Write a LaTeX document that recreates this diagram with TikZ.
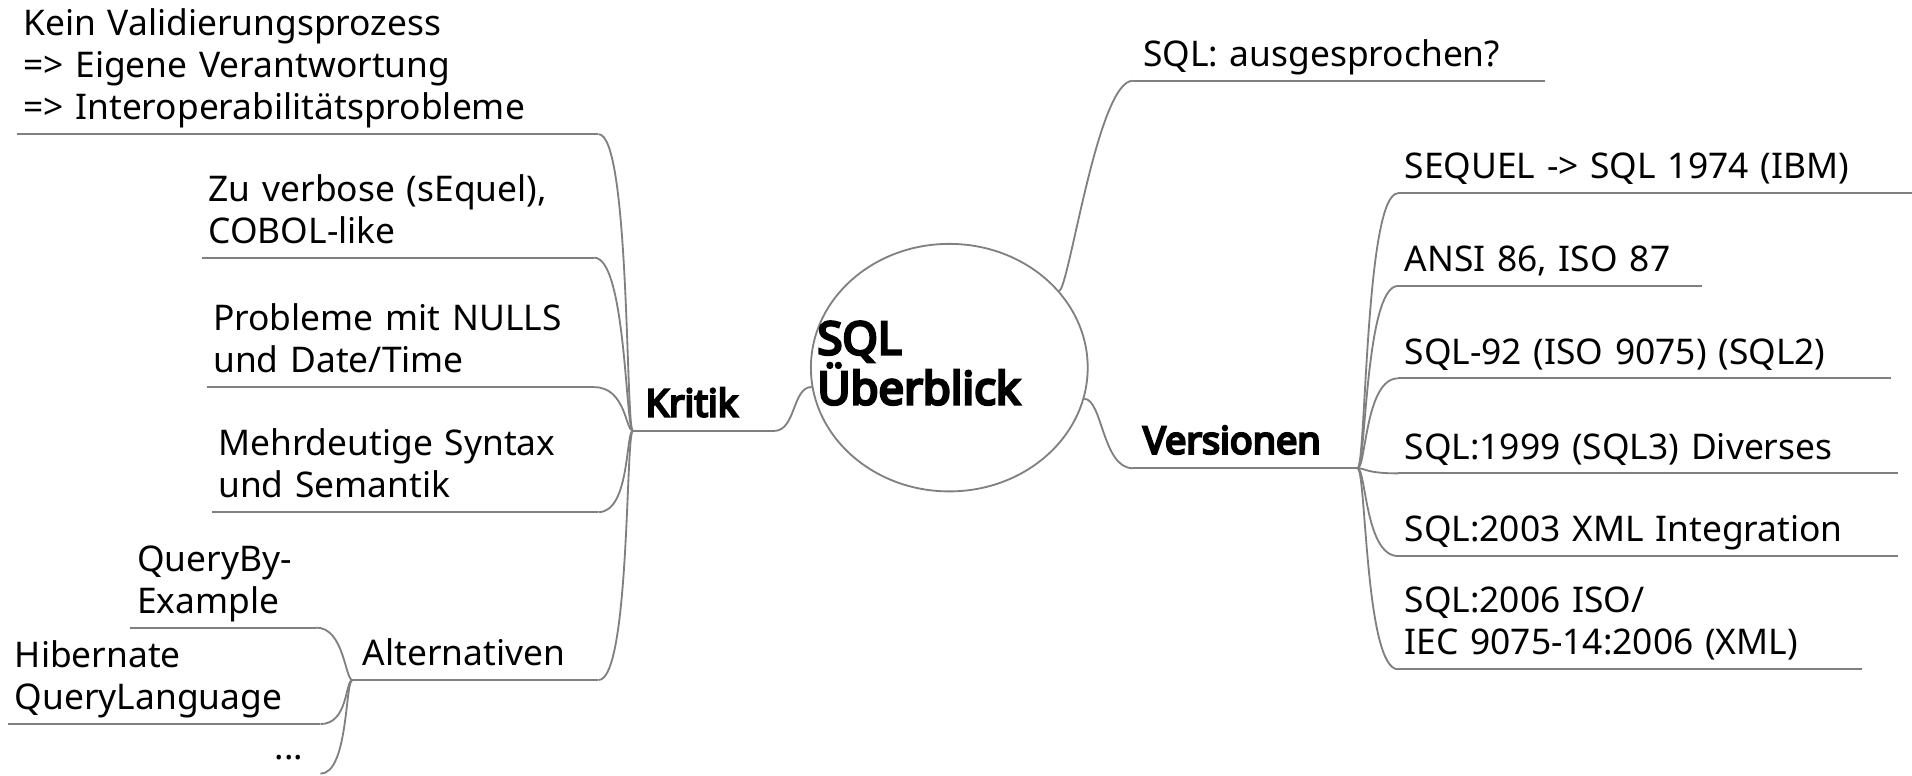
\documentclass[tikz,border=0pt]{standalone}
\usepackage{fontspec}
\setmainfont{Noto Sans}
\newfontfamily\headfont{Noto Sans}[FakeBold=6]
\usetikzlibrary{shapes.geometric}
\definecolor{branchgray}{RGB}{128,128,128}
\tikzset{
  branch/.style={draw=branchgray, line width=0.75pt},
  topic/.style={anchor=south west, inner xsep=2.5pt, inner ysep=0.5pt, align=left,
    font=\fontsize{14.5}{17.25}\selectfont},
  maintopic/.style={topic, inner xsep=4pt, font=\headfont\fontsize{15.5}{17.5}\selectfont},
  rootshape/.style={draw=branchgray, line width=0.75pt, ellipse, inner sep=0pt,
    minimum width=113.5pt, minimum height=101.5pt},
  roottext/.style={anchor=south west, inner sep=0pt, align=left,
    font=\headfont\fontsize{18.6}{20.5}\selectfont},
}
\begin{document}
\begin{tikzpicture}[x=0.5pt,y=-0.5pt]
\useasboundingbox (0,0) rectangle (1568,636);

% central topic
\node[rootshape] (root) at (778.5,301.5) {};
\node[roottext] (roottitle) at (670,344.3) {SQL\\Überblick\strut};

% main branches
\node[maintopic, inner xsep=5pt, text width=47.5pt] (kritik) at (519,353.4) {Kritik\strut};
\node[maintopic, text width=83.75pt] (versionen) at (929,384) {Versionen\strut};
\node[topic, inner xsep=4pt, text width=160.5pt] (sqlq) at (929,66.2) {SQL: ausgesprochen?\strut};

% Kritik
\node[topic, text width=233.2pt] (kein) at (13.6,110)
  {Kein Validierungsprozess\\=> Eigene Verantwortung\\=> Interoperabilitätsprobleme\strut};
\node[topic, text width=155.4pt] (verbose) at (165.7,211.3) {Zu verbose (sEquel),\\COBOL-like\strut};
\node[topic, text width=153.5pt] (nulls) at (169.5,317.5) {Probleme mit NULLS\\und Date/Time\strut};
\node[topic, text width=153.25pt] (syntax) at (173.5,420) {Mehrdeutige Syntax\\und Semantik\strut};
\node[topic, inner xsep=4pt, text width=92.5pt] (alt) at (289,557.7) {Alternativen\strut};

% Alternativen
\node[topic, text width=70.75pt] (qbe) at (107,514.7) {QueryBy-\\Example\strut};
\node[topic, text width=122.6pt] (hql) at (6.8,593.8) {Hibernate\\QueryLanguage\strut};
\node[topic, text width=16pt] (dots) at (220,634.5) {...\strut};

% Versionen
\node[topic, text width=205.75pt] (sequel) at (1146.5,158.5) {SEQUEL -> SQL 1974 (IBM)\strut};
\node[topic, text width=119.1pt] (ansi) at (1146.5,234.5) {ANSI 86, ISO 87\strut};
\node[topic, text width=196.75pt] (sql92) at (1146.5,310.3) {SQL-92 (ISO 9075) (SQL2)\strut};
\node[topic, text width=199.75pt] (sql99) at (1146.5,388.2) {SQL:1999 (SQL3) Diverses\strut};
\node[topic, text width=199.75pt] (sql03) at (1146.5,456) {SQL:2003 XML Integration\strut};
\node[topic, text width=184.75pt] (sql06) at (1146.5,548.9) {SQL:2006 ISO/\\IEC 9075-14:2006 (XML)\strut};

% underlines
\foreach \n in {kritik,versionen,sqlq,kein,verbose,nulls,syntax,alt,qbe,hql,
                sequel,ansi,sql92,sql99,sql03,sql06}
  \draw[branch] (\n.south west) -- (\n.south east);

% connectors of the central topic
\draw[branch] (kritik.south east) .. controls +(18,0) and +(-16,0) .. (root.188);
\draw[branch] (root.35) .. controls +(8,0) and +(-29,0) .. (sqlq.south west);
\draw[branch] (root.-13) .. controls +(15,0) and +(-25,0) .. (versionen.south west);

% connectors on the left
\foreach \c in {kein,verbose,nulls,syntax,alt}
  \draw[branch] (\c.south east) .. controls +(26,0) and +(-6,0) .. (kritik.south west);
\foreach \c in {qbe,hql,dots}
  \draw[branch] (\c.south east) .. controls +(23,0) and +(-6,0) .. (alt.south west);

% connectors on the right
\foreach \c in {sequel,ansi,sql92,sql99,sql03,sql06}
  \draw[branch] (versionen.south east) .. controls +(7,0) and +(-27,0) .. (\c.south west);
\end{tikzpicture}
\end{document}
